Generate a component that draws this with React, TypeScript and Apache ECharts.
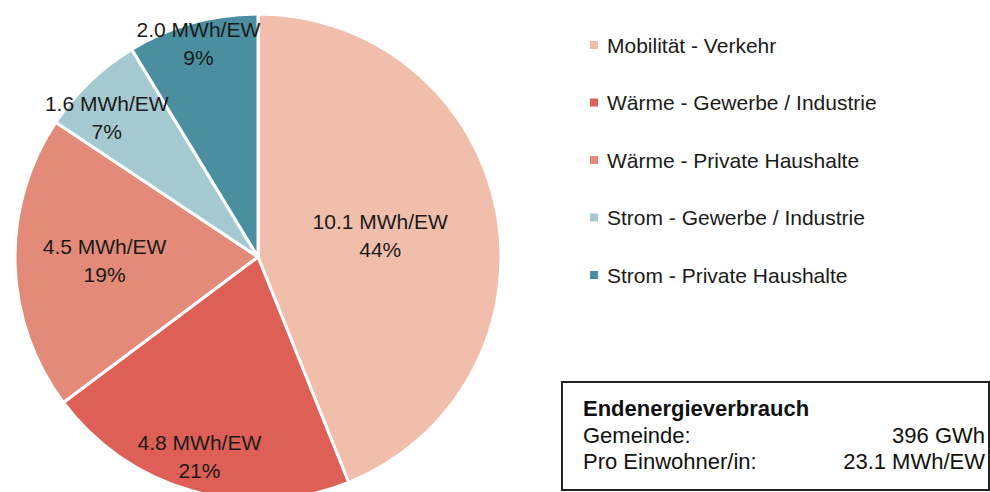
import React, { useEffect, useRef } from "react";
import * as echarts from "echarts";

const categories = [
  "Mobilität - Verkehr",
  "Wärme - Gewerbe / Industrie",
  "Wärme - Private Haushalte",
  "Strom - Gewerbe / Industrie",
  "Strom - Private Haushalte",
];
const perCapita = [10.1, 4.8, 4.5, 1.6, 2.0];
const shares = [44, 21, 19, 7, 9];
const colors = ["#F0BEAB", "#DD5F55", "#E38A78", "#A5C9D0", "#4A8E9F"];
const labelOffsets = [
  [0, 2],
  [-25, 80],
  [-29, 0],
  [-65, -50],
  [-26, -94],
];
const boxTitle = "Endenergieverbrauch";
const boxRows = [
  ["Gemeinde:", "396 GWh"],
  ["Pro Einwohner/in:", "23.1 MWh/EW"],
];

const FONT = "'Liberation Sans', Arial, sans-serif";

export default function App() {
  const ref = useRef<HTMLDivElement>(null);
  useEffect(() => {
    document.body.style.margin = "0";
    const chart = echarts.init(ref.current!, null, { renderer: "svg" });
    const rowY = [435, 461];
    chart.setOption({
      animation: false,
      backgroundColor: "#ffffff",
      legend: {
        orient: "vertical",
        left: 583,
        top: 28,
        icon: "rect",
        itemWidth: 10,
        itemHeight: 10,
        itemGap: 33.5,
        selectedMode: false,
        data: categories,
        textStyle: {
          fontFamily: FONT,
          fontSize: 21,
          color: "#1a1a1a",
          lineHeight: 24,
          padding: [0, 0, 0, 3],
        },
      },
      series: [
        {
          type: "pie",
          center: [258, 257],
          radius: [0, 243],
          startAngle: 90,
          clockwise: true,
          avoidLabelOverlap: false,
          itemStyle: { borderColor: "#ffffff", borderWidth: 3 },
          label: {
            show: true,
            position: "inside",
            fontFamily: FONT,
            fontSize: 21,
            lineHeight: 28,
            color: "#1a1a1a",
            align: "center",
            formatter: (p: any) =>
              `${perCapita[p.dataIndex].toFixed(1)} MWh/EW\n${shares[p.dataIndex]}%`,
          },
          labelLayout: (p: any) => ({
            dx: labelOffsets[p.dataIndex][0],
            dy: labelOffsets[p.dataIndex][1],
          }),
          emphasis: { disabled: true },
          data: categories.map((name, i) => ({
            name,
            value: perCapita[i],
            itemStyle: { color: colors[i] },
          })),
        },
      ],
      graphic: [
        {
          type: "rect",
          shape: { x: 562, y: 382, width: 427, height: 108 },
          style: { fill: "#ffffff", stroke: "#222222", lineWidth: 2 },
        },
        {
          type: "text",
          x: 583,
          y: 408,
          style: {
            text: boxTitle,
            fontFamily: FONT,
            fontSize: 22,
            fontWeight: "bold",
            fill: "#111111",
            verticalAlign: "middle",
          },
        },
        ...boxRows.flatMap((row, i) => [
          {
            type: "text",
            x: 583,
            y: rowY[i],
            style: {
              text: row[0],
              fontFamily: FONT,
              fontSize: 22,
              fill: "#111111",
              verticalAlign: "middle",
            },
          },
          {
            type: "text",
            x: 985,
            y: rowY[i],
            style: {
              text: row[1],
              fontFamily: FONT,
              fontSize: 22,
              fill: "#111111",
              align: "right",
              verticalAlign: "middle",
            },
          },
        ]),
      ],
    });
    return () => chart.dispose();
  }, []);
  return (
    <div
      ref={ref}
      style={{ position: "fixed", left: 0, top: 0, width: 990, height: 492 }}
    />
  );
}
